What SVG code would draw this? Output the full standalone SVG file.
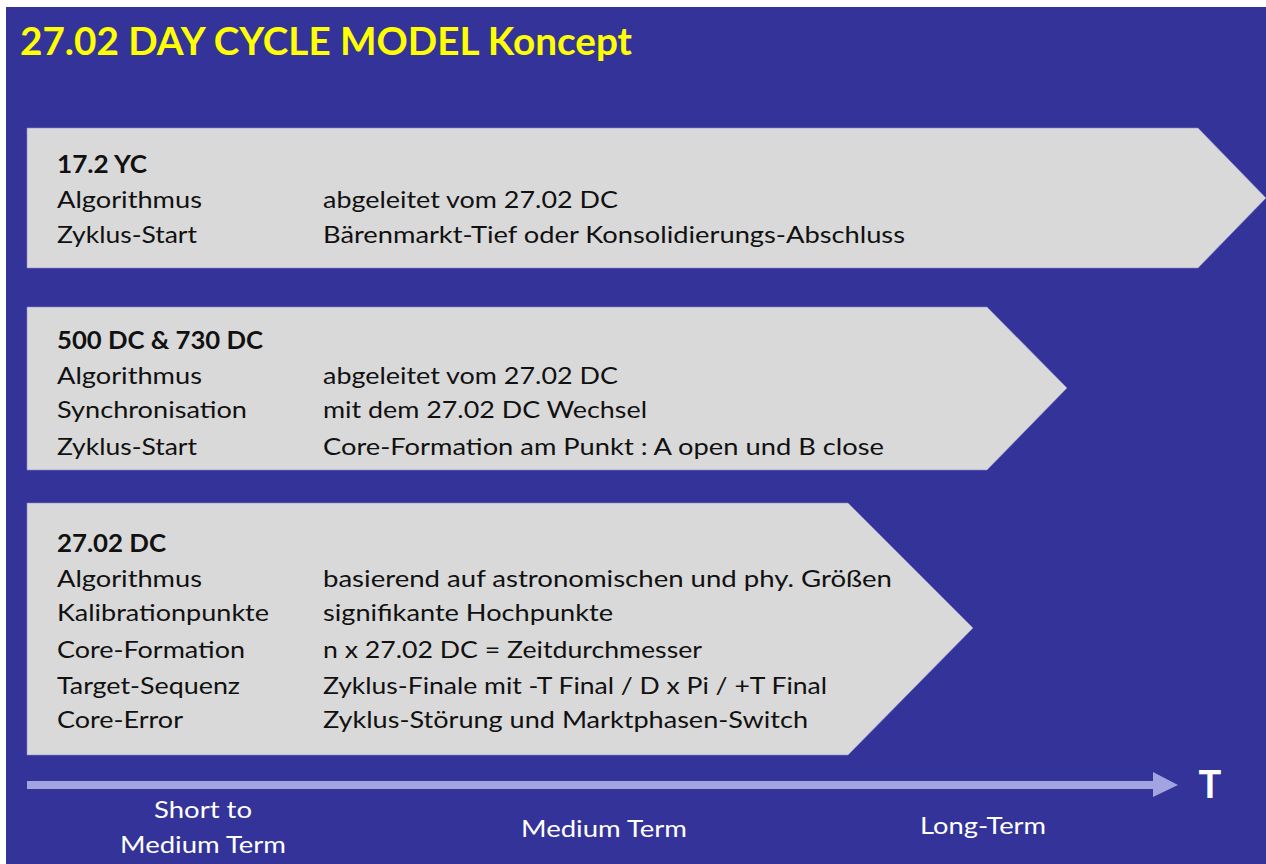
<svg xmlns="http://www.w3.org/2000/svg" width="1266" height="864" viewBox="0 0 1266 864">
<defs>
<style>
.t{font-family:Lato,"Noto Sans","Liberation Sans",sans-serif;font-size:24px;fill:#111111;}
.b{font-weight:bold;}
.w{font-family:Lato,"Noto Sans","Liberation Sans",sans-serif;font-size:24px;fill:#ffffff;text-anchor:middle;}
.box{fill:#d9d9d9;stroke:#8f8fcc;stroke-width:0.6;}
</style>
</defs>
<rect x="0" y="0" width="1266" height="864" fill="#ffffff"/>
<rect x="6" y="7" width="1260" height="857" fill="#333399"/>
<text x="20" y="55" font-family="Lato,'Noto Sans','Liberation Sans',sans-serif" font-size="38" font-weight="bold" fill="#ffff00" textLength="612" lengthAdjust="spacingAndGlyphs">27.02 DAY CYCLE MODEL Koncept</text>

<g id="node-17-2-yc">
<polygon class="box" points="27,128 1198,128 1266,198 1198,268 27,268"/>
<text class="t b" x="57" y="173" textLength="90" lengthAdjust="spacingAndGlyphs">17.2 YC</text>
<text class="t" x="57" y="208" textLength="145" lengthAdjust="spacingAndGlyphs">Algorithmus</text>
<text class="t" x="57" y="243" textLength="140" lengthAdjust="spacingAndGlyphs">Zyklus-Start</text>
<text class="t" x="323" y="208" textLength="295" lengthAdjust="spacingAndGlyphs">abgeleitet vom 27.02 DC</text>
<text class="t" x="323" y="243" textLength="582" lengthAdjust="spacingAndGlyphs">Bärenmarkt-Tief oder Konsolidierungs-Abschluss</text>
</g>

<g id="node-500-730-dc">
<polygon class="box" points="27,307 987,307 1067,388 987,470 27,470"/>
<text class="t b" x="57" y="349" textLength="206" lengthAdjust="spacingAndGlyphs">500 DC &amp; 730 DC</text>
<text class="t" x="57" y="384" textLength="145" lengthAdjust="spacingAndGlyphs">Algorithmus</text>
<text class="t" x="57" y="418" textLength="190" lengthAdjust="spacingAndGlyphs">Synchronisation</text>
<text class="t" x="57" y="455" textLength="140" lengthAdjust="spacingAndGlyphs">Zyklus-Start</text>
<text class="t" x="323" y="384" textLength="295" lengthAdjust="spacingAndGlyphs">abgeleitet vom 27.02 DC</text>
<text class="t" x="323" y="418" textLength="324" lengthAdjust="spacingAndGlyphs">mit dem 27.02 DC Wechsel</text>
<text class="t" x="323" y="455" textLength="561" lengthAdjust="spacingAndGlyphs">Core-Formation am Punkt : A open und B close</text>
</g>

<g id="node-27-02-dc">
<polygon class="box" points="27,503 848,503 973,628 848,755 27,755"/>
<text class="t b" x="57" y="552" textLength="109" lengthAdjust="spacingAndGlyphs">27.02 DC</text>
<text class="t" x="57" y="587" textLength="145" lengthAdjust="spacingAndGlyphs">Algorithmus</text>
<text class="t" x="57" y="621" textLength="212" lengthAdjust="spacingAndGlyphs">Kalibrationpunkte</text>
<text class="t" x="57" y="658" textLength="188" lengthAdjust="spacingAndGlyphs">Core-Formation</text>
<text class="t" x="57" y="694" textLength="183" lengthAdjust="spacingAndGlyphs">Target-Sequenz</text>
<text class="t" x="57" y="728" textLength="126" lengthAdjust="spacingAndGlyphs">Core-Error</text>
<text class="t" x="323" y="587" textLength="569" lengthAdjust="spacingAndGlyphs">basierend auf astronomischen und phy. Größen</text>
<text class="t" x="323" y="621" textLength="290" lengthAdjust="spacingAndGlyphs">signifikante Hochpunkte</text>
<text class="t" x="323" y="658" textLength="379" lengthAdjust="spacingAndGlyphs">n x 27.02 DC = Zeitdurchmesser</text>
<text class="t" x="323" y="694" textLength="504" lengthAdjust="spacingAndGlyphs">Zyklus-Finale mit -T Final / D x Pi / +T Final</text>
<text class="t" x="323" y="728" textLength="485" lengthAdjust="spacingAndGlyphs">Zyklus-Störung und Marktphasen-Switch</text>
</g>

<g id="connectors">
<rect x="27" y="781" width="1127" height="8" fill="#a3a3e0"/>
<polygon points="1153,772 1178,785 1153,797" fill="#a3a3e0"/>
</g>

<g id="axis-labels">
<text x="1210" y="798" font-family="Lato,'Noto Sans','Liberation Sans',sans-serif" font-size="38" font-weight="bold" fill="#ffffff" text-anchor="middle">T</text>
<text class="w" x="203" y="818" textLength="98" lengthAdjust="spacingAndGlyphs">Short to</text>
<text class="w" x="203" y="853" textLength="166" lengthAdjust="spacingAndGlyphs">Medium Term</text>
<text class="w" x="604" y="837" textLength="166" lengthAdjust="spacingAndGlyphs">Medium Term</text>
<text class="w" x="983" y="834" textLength="126" lengthAdjust="spacingAndGlyphs">Long-Term</text>
</g>
</svg>
